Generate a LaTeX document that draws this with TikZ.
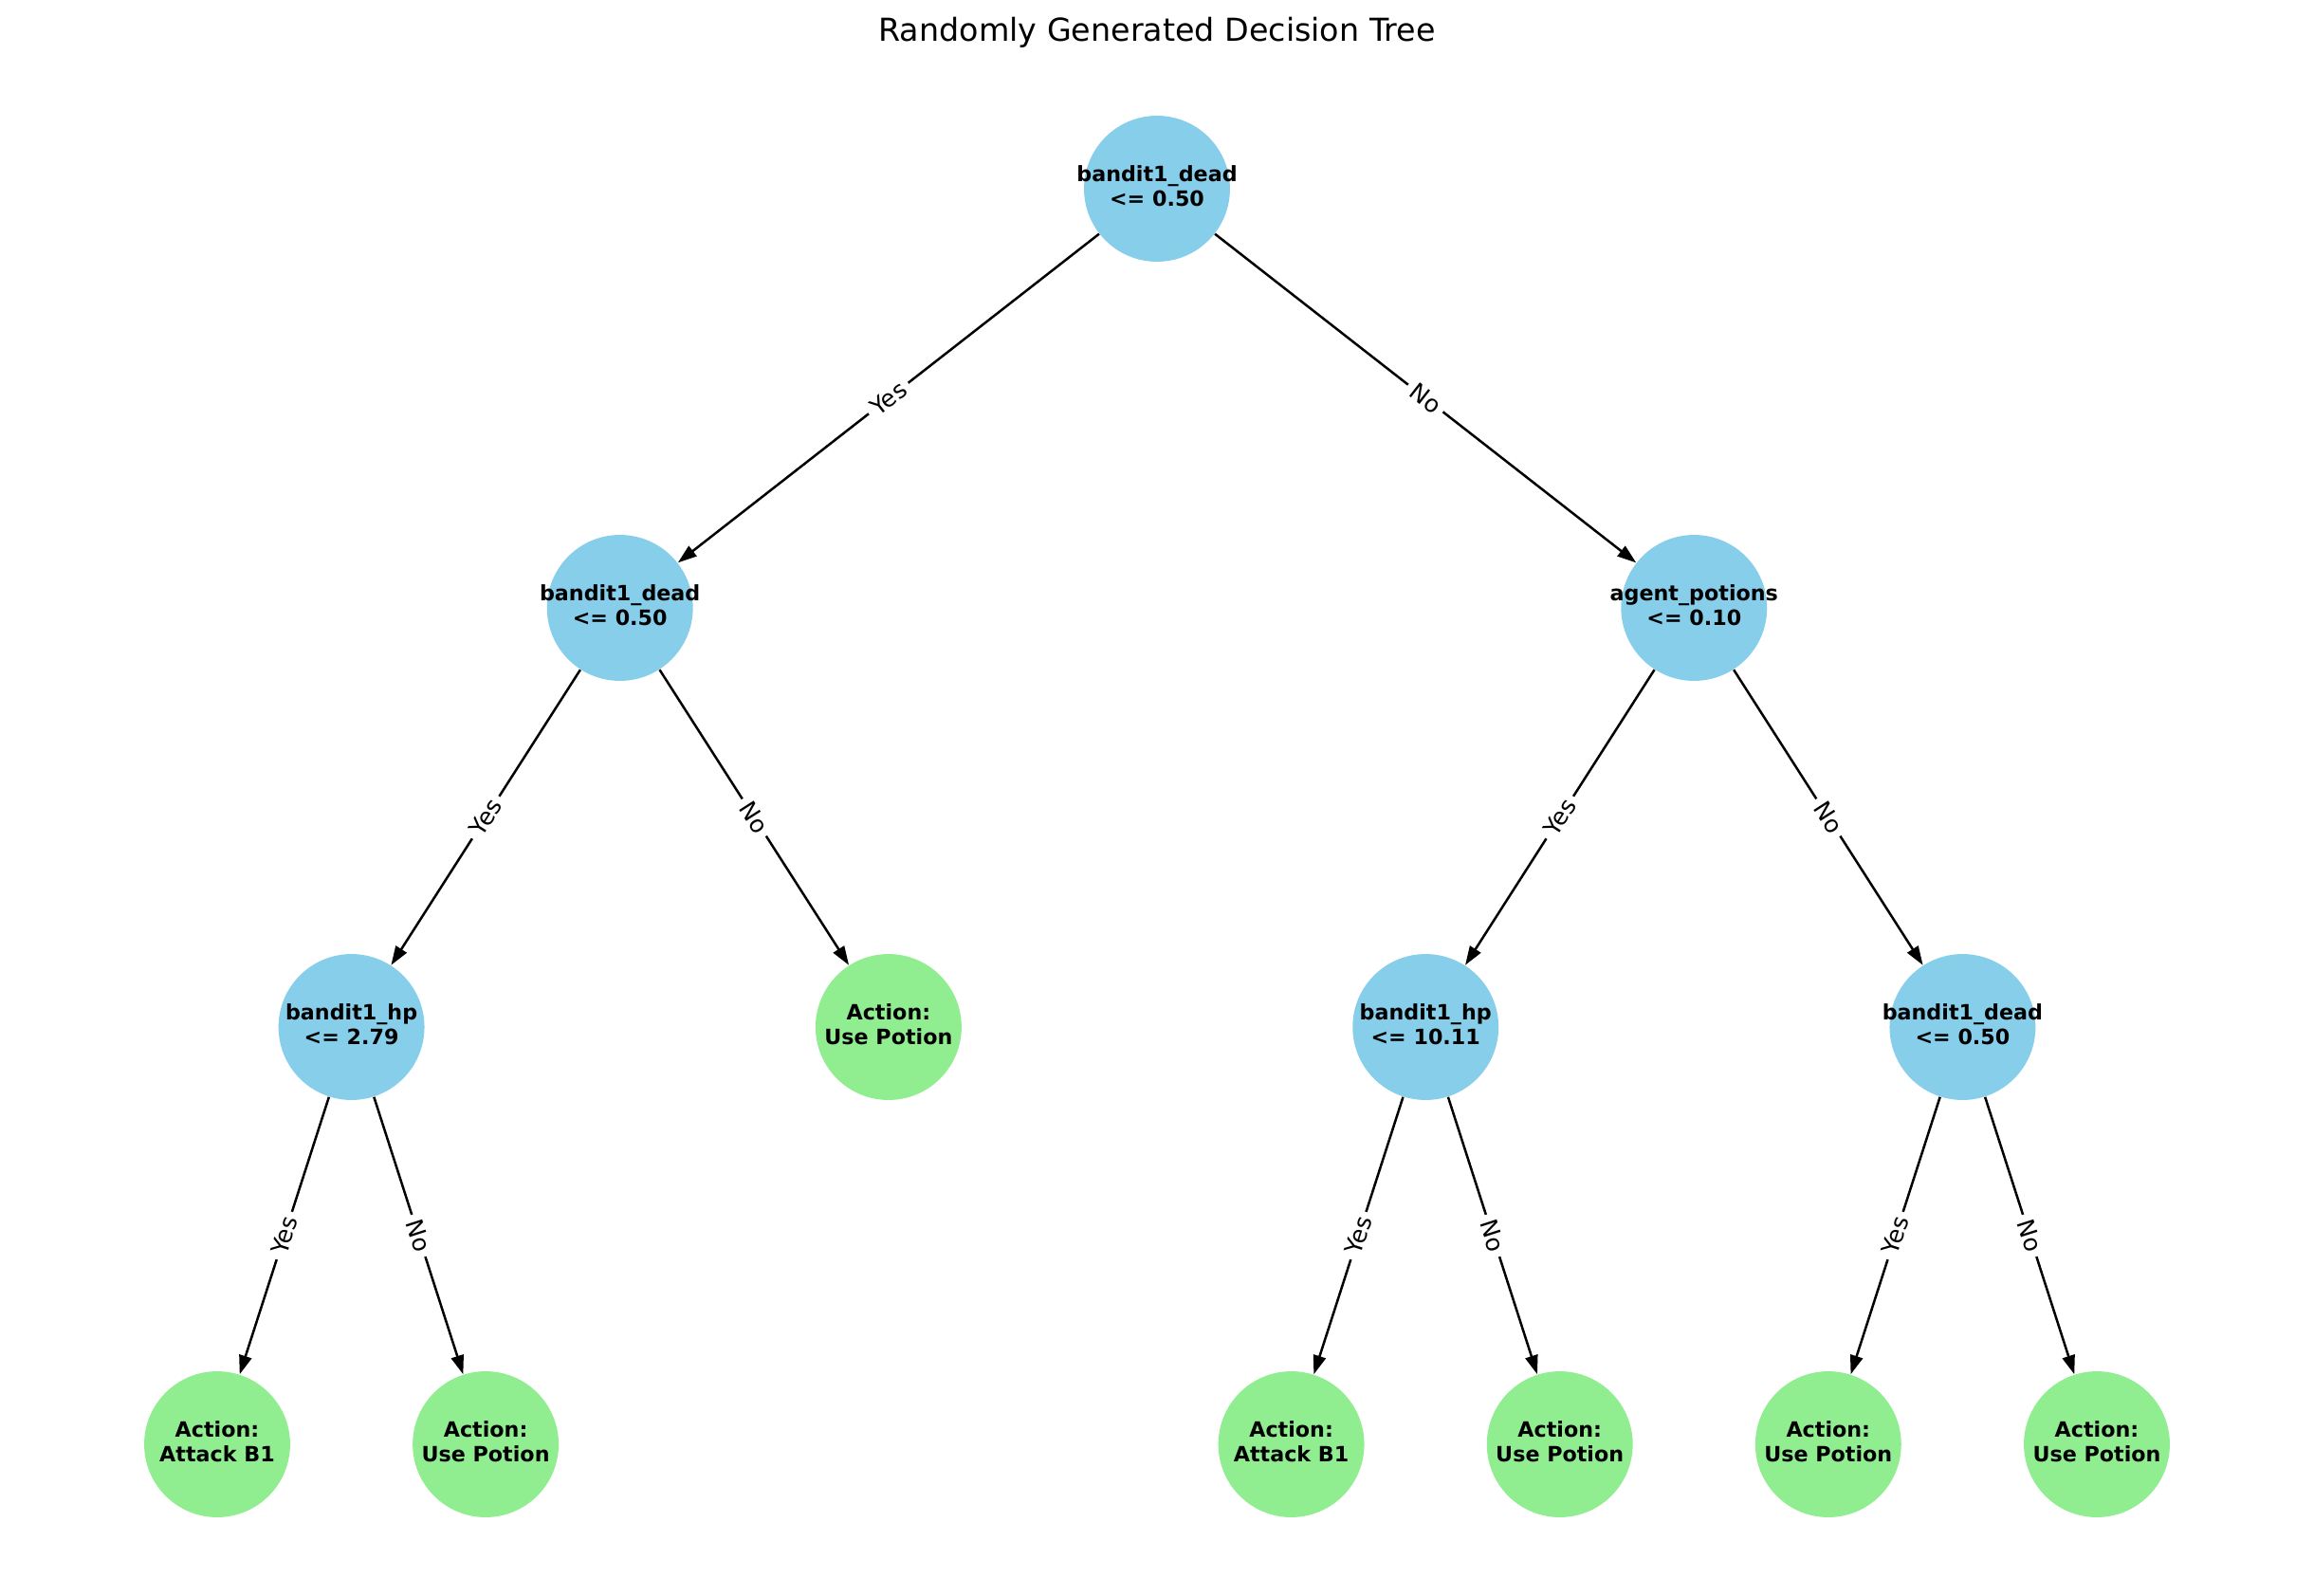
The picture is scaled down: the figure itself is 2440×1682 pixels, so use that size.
\documentclass[tikz,border=0pt]{standalone}
\usepackage{fontspec}
\setmainfont{DejaVu Sans}
\usetikzlibrary{arrows.meta}
\newcommand{\twoline}[2]{\makebox[0pt][c]{\raisebox{-1pt}{\begin{tabular}{@{}c@{}}#1\\#2\end{tabular}}}}
\begin{document}
\begin{tikzpicture}[x=0.36pt,y=-0.36pt,
  tnode/.style={circle,minimum size=55.4pt,inner sep=0pt,
    font=\fontsize{8}{9.6}\selectfont\bfseries},
  split/.style={tnode,fill=skyblue},
  leaf/.style={tnode,fill=lightgreen},
  edge/.style={draw=black,line width=0.9pt,-{Triangle[length=7.2pt,width=4.8pt]}},
  elabel/.style={midway,sloped,fill=white,inner sep=2.2pt,rounded corners=2pt,
    font=\fontsize{9}{10}\selectfont}]
\definecolor{skyblue}{HTML}{87CEEB}
\definecolor{lightgreen}{HTML}{90EE90}
\useasboundingbox (0,0) rectangle (2440,1682);
\fill[white] (0,0) rectangle (2440,1682);
\node[font=\fontsize{12}{14}\selectfont] (title) at (1220,34) {Randomly Generated Decision Tree};
% row 1
\node[split] (r) at (1220,199) {\twoline{bandit1\_dead}{<= 0.50}};
% row 2
\node[split] (a) at (653.7,641) {\twoline{bandit1\_dead}{<= 0.50}};
\node[split] (b) at (1786.3,641) {\twoline{agent\_potions}{<= 0.10}};
% row 3
\node[split] (aa) at (370.6,1083) {\twoline{bandit1\_hp}{<= 2.79}};
\node[leaf]  (ab) at (936.9,1083) {\twoline{Action:}{Use Potion}};
\node[split] (ba) at (1503.2,1083) {\twoline{bandit1\_hp}{<= 10.11}};
\node[split] (bb) at (2069.4,1083) {\twoline{bandit1\_dead}{<= 0.50}};
% row 4
\node[leaf] (aaa) at (229,1523) {\twoline{Action:}{Attack B1}};
\node[leaf] (aab) at (512.1,1523) {\twoline{Action:}{Use Potion}};
\node[leaf] (baa) at (1361.6,1523) {\twoline{Action:}{Attack B1}};
\node[leaf] (bab) at (1644.7,1523) {\twoline{Action:}{Use Potion}};
\node[leaf] (bba) at (1927.8,1523) {\twoline{Action:}{Use Potion}};
\node[leaf] (bbb) at (2211,1523) {\twoline{Action:}{Use Potion}};
% edges
\draw[edge] (r) -- (a) node[elabel] {Yes};
\draw[edge] (r) -- (b) node[elabel] {No};
\draw[edge] (a) -- (aa) node[elabel] {Yes};
\draw[edge] (a) -- (ab) node[elabel] {No};
\draw[edge] (b) -- (ba) node[elabel] {Yes};
\draw[edge] (b) -- (bb) node[elabel] {No};
\draw[edge] (aa) -- (aaa) node[elabel] {Yes};
\draw[edge] (aa) -- (aab) node[elabel] {No};
\draw[edge] (ba) -- (baa) node[elabel] {Yes};
\draw[edge] (ba) -- (bab) node[elabel] {No};
\draw[edge] (bb) -- (bba) node[elabel] {Yes};
\draw[edge] (bb) -- (bbb) node[elabel] {No};
\end{tikzpicture}
\end{document}
